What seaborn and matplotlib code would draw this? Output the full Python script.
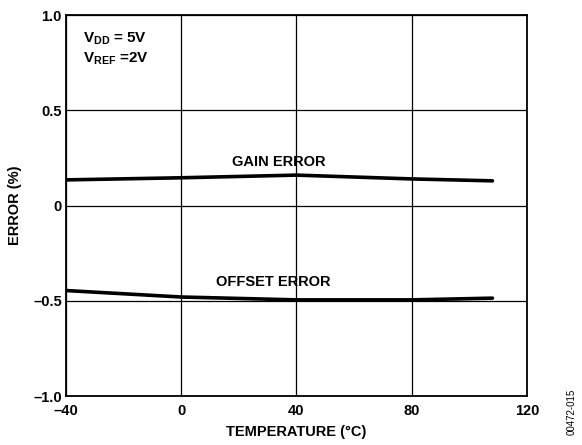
import pandas as pd
import numpy as np
import seaborn as sns
import matplotlib.pyplot as plt

sns.set_style("white")
plt.rcParams["font.family"] = ["Liberation Sans", "DejaVu Sans"]
plt.rcParams["font.weight"] = "bold"
plt.rcParams["text.color"] = "black"
plt.rcParams["axes.labelcolor"] = "black"
plt.rcParams["xtick.color"] = "black"
plt.rcParams["ytick.color"] = "black"
plt.rcParams["mathtext.fontset"] = "custom"
plt.rcParams["mathtext.rm"] = "Liberation Sans:bold"
plt.rcParams["mathtext.bf"] = "Liberation Sans:bold"
plt.rcParams["mathtext.it"] = "Liberation Sans:bold"

# data
temperature = [-40, 0, 40, 80, 108]
gain_error = [0.135, 0.146, 0.160, 0.140, 0.130]
offset_error = [-0.446, -0.480, -0.495, -0.495, -0.486]

x_ticks = [-40, 0, 40, 80, 120]
x_labels = ["\u201340", "0", "40", "80", "120"]
y_ticks = [-1.0, -0.5, 0, 0.5, 1.0]
y_labels = ["\u20131.0", "\u20130.5", "0", "0.5", "1.0"]

df = pd.DataFrame({
    "temp": temperature * 2,
    "error": gain_error + offset_error,
    "series": ["GAIN ERROR"] * len(temperature) + ["OFFSET ERROR"] * len(temperature),
})

fig = plt.figure(figsize=(5.82, 4.45), dpi=100)
ax = fig.add_axes([0.1134, 0.110, 0.7921, 0.856])

sns.lineplot(data=df, x="temp", y="error", units="series", estimator=None,
             color="black", linewidth=2.6, ax=ax)

fs = 10.5
ax.set_xlim(-40, 120)
ax.set_ylim(-1.0, 1.0)
ax.set_xticks(x_ticks)
ax.set_xticklabels(x_labels, fontsize=fs, fontweight="bold")
ax.set_yticks(y_ticks)
ax.set_yticklabels(y_labels, fontsize=fs, fontweight="bold")
ax.tick_params(axis="x", length=0, pad=6)
ax.tick_params(axis="y", length=0, pad=3)
ax.grid(True, color="black", linewidth=0.9)
for s in ax.spines.values():
    s.set_color("black")
    s.set_linewidth(1.3)

ax.set_xlabel("TEMPERATURE (\u00b0C)", fontsize=fs, fontweight="bold", labelpad=5)
ax.set_ylabel("ERROR (%)", fontsize=fs, fontweight="bold", labelpad=8)

ax.text(34, 0.23, "GAIN ERROR", ha="center", va="center", fontsize=fs, fontweight="bold")
ax.text(32, -0.40, "OFFSET ERROR", ha="center", va="center", fontsize=fs, fontweight="bold")
ax.text(-34, 0.875, r"V$_{\mathrm{DD}}$ = 5V", ha="left", va="center", fontsize=11, fontweight="bold")
ax.text(-34, 0.77, r"V$_{\mathrm{REF}}$ =2V", ha="left", va="center", fontsize=11, fontweight="bold")

fig.text(0.983, 0.075, "00472-015", rotation=90, ha="center", va="center", fontsize=7, fontweight="normal")

fig.savefig("out.png", dpi=100)
